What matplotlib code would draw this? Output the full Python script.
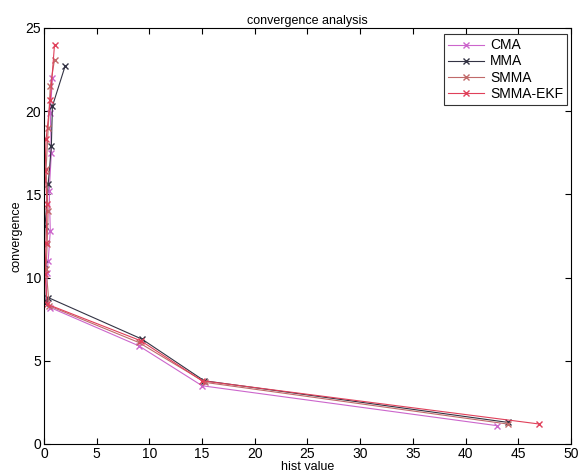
import matplotlib
matplotlib.use("Agg")
import matplotlib.pyplot as plt

plt.rcParams['font.family'] = ['Liberation Sans', 'DejaVu Sans']

# hist value (x) and convergence (y) for each method
cma_x = [0.8, 0.6, 0.7, 0.5, 0.6, 0.4, 0.3, 0.2, 0.6, 9.0, 15.0, 43.0]
cma_y = [22.0, 19.9, 17.5, 15.2, 12.8, 11.0, 10.3, 8.6, 8.2, 5.9, 3.5, 1.1]

mma_x = [2.0, 0.8, 0.7, 0.4, 0.1, 0.0, 0.1, 0.4, 9.3, 15.2, 44.0]
mma_y = [22.7, 20.3, 17.9, 15.6, 13.1, 10.8, 8.5, 8.8, 6.3, 3.8, 1.3]

smma_x = [1.0, 0.6, 0.4, 0.2, 0.4, 0.3, 0.2, 0.5, 9.0, 15.3, 44.0]
smma_y = [23.1, 21.5, 19.0, 16.5, 14.0, 12.0, 10.5, 8.3, 6.1, 3.7, 1.2]

ekf_x = [1.0, 0.6, 0.2, 0.1, 0.3, 0.2, 0.1, 0.3, 9.2, 15.0, 47.0]
ekf_y = [24.0, 20.7, 18.3, 16.4, 14.4, 12.1, 10.2, 8.4, 6.2, 3.8, 1.2]

fig = plt.figure(figsize=(5.84, 4.74), dpi=100)
ax = fig.add_axes([0.0753, 0.0633, 0.9024, 0.8777])

ax.plot(cma_x, cma_y, color='#cc66cc', marker='x', markersize=5, linewidth=0.8, label='CMA')
ax.plot(mma_x, mma_y, color='#333344', marker='x', markersize=5, linewidth=0.8, label='MMA')
ax.plot(smma_x, smma_y, color='#c06a6a', marker='x', markersize=5, linewidth=0.8, label='SMMA')
ax.plot(ekf_x, ekf_y, color='#e0405a', marker='x', markersize=5, linewidth=0.8, label='SMMA-EKF')

ax.set_xlim(0, 50)
ax.set_ylim(0, 25)
ax.set_xticks(range(0, 51, 5))
ax.set_yticks(range(0, 26, 5))
ax.tick_params(direction='in', top=True, right=True, labelsize=10, length=4, pad=2)
for s in ax.spines.values():
    s.set_linewidth(0.8)

ax.set_title("convergence analysis", fontsize=9, pad=3)
ax.set_xlabel("hist value", fontsize=9, labelpad=0)
ax.set_ylabel("convergence", fontsize=9, labelpad=2)

leg = ax.legend(loc='upper right', fontsize=10, fancybox=False, framealpha=1,
                edgecolor='#333333', handlelength=2.6, handletextpad=0.4,
                borderpad=0.3, labelspacing=0.15, borderaxespad=0,
                bbox_to_anchor=(0.993, 0.985))
leg.get_frame().set_linewidth(0.8)

fig.savefig("out.png", dpi=100)
